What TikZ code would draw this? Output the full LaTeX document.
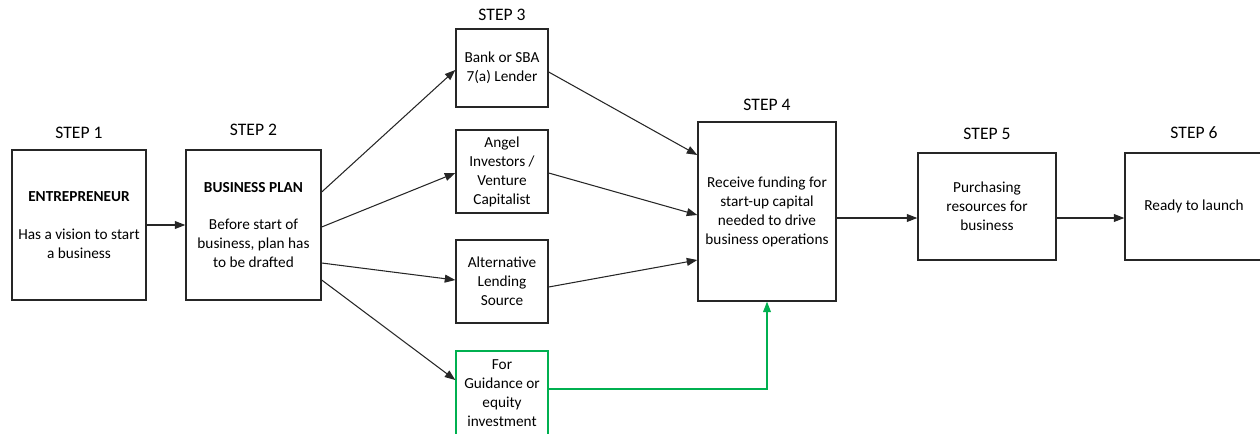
\documentclass[tikz,border=0pt]{standalone}
\usepackage{fontspec}
\setmainfont{Carlito}
\usetikzlibrary{arrows.meta}
\usetikzlibrary{positioning}
\usetikzlibrary{calc}
\definecolor{guidegreen}{RGB}{0,176,80}
\tikzset{
  stepbox/.style={draw=black!85, line width=0.8pt, align=center, inner sep=2pt,
    font=\fontsize{8.7}{10.8}\selectfont},
  steplabel/.style={inner sep=0pt, font=\fontsize{10}{12}\selectfont},
  flow/.style={-{Triangle[length=6pt,width=4.5pt]}, line width=0.6pt, color=black!85},
}
\begin{document}
\begin{tikzpicture}[x=0.02cm,y=-0.02cm]
  \useasboundingbox (0,0) rectangle (1260,433);

  % boxes
  \node[stepbox, minimum width=2.68cm, minimum height=3cm] (b1) at (79,225)
    {\textbf{ENTREPRENEUR}\\[11.2pt] Has a vision to start\\ a business};
  \node[stepbox, minimum width=2.7cm, minimum height=3cm] (b2) at (253.5,225)
    {\textbf{BUSINESS PLAN}\\[10.7pt] Before start of\\ business, plan has\\ to be drafted};
  \node[stepbox, minimum width=1.84cm, minimum height=1.56cm] (b3a) at (502,68)
    {Bank or SBA\\ 7(a) Lender};
  \node[stepbox, minimum width=1.84cm, minimum height=1.66cm] (b3b) at (502,171.5)
    {Angel\\ Investors /\\ Venture\\ Capitalist};
  \node[stepbox, minimum width=1.84cm, minimum height=1.66cm] (b3c) at (502,281.5)
    {Alternative\\ Lending\\ Source};
  \node[stepbox, draw=guidegreen, minimum width=1.84cm, minimum height=1.7cm] (b3d) at (502,393.5)
    {For\\ Guidance or\\ equity\\ investment};
  \node[stepbox, minimum width=2.76cm, minimum height=3.58cm] (b4) at (767,211.5)
    {Receive funding for\\ start-up capital\\ needed to drive\\ business operations};
  \node[stepbox, minimum width=2.76cm, minimum height=2.14cm] (b5) at (987,206.5)
    {Purchasing\\ resources for\\ business};
  \node[stepbox, minimum width=2.76cm, minimum height=2.14cm] (b6) at (1194,206.5)
    {Ready to launch};

  % step labels
  \node[steplabel, above=6pt of b1] (s1) {STEP 1};
  \node[steplabel, above=7.5pt of b2] (s2) {STEP 2};
  \node[steplabel, above=4pt of b3a] (s3) {STEP 3};
  \node[steplabel, above=6pt of b4] (s4) {STEP 4};
  \node[steplabel, above=7pt of b5] (s5) {STEP 5};
  \node[steplabel, above=7.5pt of b6] (s6) {STEP 6};

  % connectors
  \draw[flow] (b1) -- (b2);
  \draw[flow] ($(b2.east)+(0,-33)$) -- ($(b3a.west)+(0,2)$);
  \draw[flow] ($(b2.east)+(0,2)$) -- ($(b3b.west)+(0,1.5)$);
  \draw[flow] ($(b2.east)+(0,38)$) -- ($(b3c.west)+(0,-1.5)$);
  \draw[flow] ($(b2.east)+(0,55)$) -- ($(b3d.west)+(0,-13.5)$);
  \draw[flow] ($(b3a.east)+(0,4)$) -- ($(b4.west)+(0,-56.5)$);
  \draw[flow] ($(b3b.east)+(0,1.5)$) -- ($(b4.west)+(0,3.5)$);
  \draw[flow] ($(b3c.east)+(0,5.5)$) -- ($(b4.west)+(0,48.5)$);
  \draw[flow, color=guidegreen] ($(b3d.east)+(0,-4.5)$) -| (b4.south);
  \coordinate (c45) at ($(b4.east)+(0,6.5)$);
  \draw[flow] (c45) -- (c45 -| b5.west);
  \coordinate (c56) at ($(b5.east)+(0,11.5)$);
  \draw[flow] (c56) -- (c56 -| b6.west);
\end{tikzpicture}
\end{document}
